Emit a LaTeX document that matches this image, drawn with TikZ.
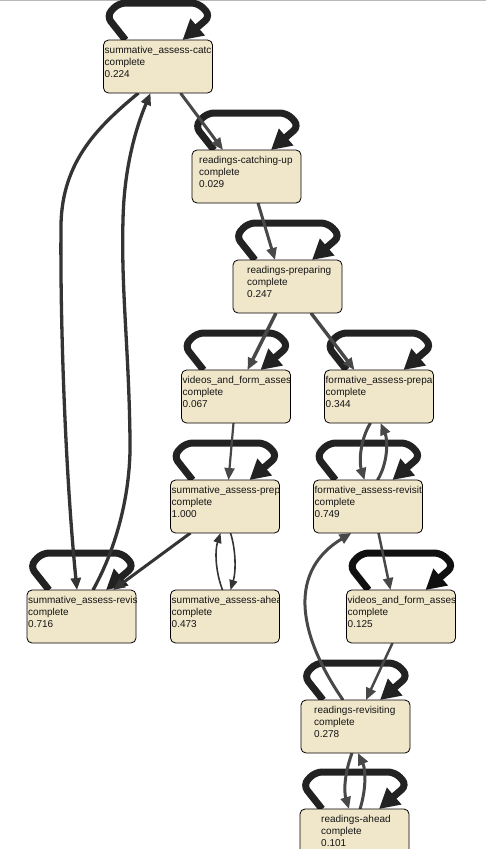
\documentclass[tikz,border=0pt]{standalone}
\usepackage{fontspec}
\setmainfont{Liberation Sans}
\usetikzlibrary{arrows.meta,calc,backgrounds}
\definecolor{boxfill}{RGB}{240,231,202}
\definecolor{edgegray}{RGB}{72,72,72}
\definecolor{edgedark}{RGB}{52,52,52}
\definecolor{loopdark}{RGB}{34,34,34}
\definecolor{loopblack}{RGB}{16,16,16}
\definecolor{textblack}{RGB}{20,20,20}
\tikzset{
  statebox/.style={draw=black, line width=0.8pt, fill=boxfill, rounded corners=5pt,
    minimum width=109pt, minimum height=53pt, inner sep=0pt, outer sep=0pt, anchor=north west},
  lbl/.style={anchor=base west, inner sep=0pt, font=\fontsize{10}{12}\selectfont, text=textblack},
  edge/.style={draw=edgegray, line width=3pt, -{Triangle[length=12pt,width=10pt]}},
  darkedge/.style={draw=edgedark, line width=3.3pt, -{Triangle[length=12pt,width=10pt]}},
  thinedge/.style={draw=edgedark, line width=1.6pt, -{Triangle[length=10pt,width=8pt]}},
  loopline/.style={line width=7pt, rounded corners=7pt, -{Triangle[length=20pt,width=21pt]}}
}
\newcommand\boxlabel[5]{%
  \begin{scope}
    \clip (#1.south west) rectangle (#1.north east);
    \node[lbl] (#1-a) at ($(#1.north west)+(#2,13)$) {#3};
    \node[lbl] (#1-b) at ($(#1.north west)+(#2,25)$) {#4};
    \node[lbl] (#1-c) at ($(#1.north west)+(#2,37)$) {#5};
  \end{scope}}
\newcommand\selfloop[2]{%
  \draw[loopline, draw=#2, fill=none]
    ($(#1.north west)+(22,0)$) -- ($(#1.north west)+(3,-24)$) -- ($(#1.north west)+(15,-37)$)
    -- ($(#1.north west)+(95,-37)$) -- ($(#1.north west)+(107,-24)$) -- ($(#1.north west)+(79,0)$);}
\begin{document}
\begin{tikzpicture}[x=1pt,y=-1pt]
\useasboundingbox (0,0) rectangle (486,849);
\clip (0,0) rectangle (486,849);
\begin{scope}[on background layer]
  \fill[white] (0,0) rectangle (486,849);
  \draw[gray!55, line width=1pt] (0,0.5) -- (486,0.5);
\end{scope}

% state boxes
\node[statebox] (n1) at (103.5,40) {};
\node[statebox] (n2) at (192,150) {};
\node[statebox] (n3) at (233,260) {};
\node[statebox] (n4) at (181.5,370) {};
\node[statebox] (n5) at (324.5,370) {};
\node[statebox] (n6) at (170.5,480) {};
\node[statebox] (n7) at (313.5,480) {};
\node[statebox] (n8) at (27,590) {};
\node[statebox] (n9) at (170.5,590) {};
\node[statebox] (n10) at (346.5,590) {};
\node[statebox] (n11) at (301,700) {};
\node[statebox] (n12) at (300,809) {};

\boxlabel{n1}{1}{summative\_assess-catc}{complete}{0.224}
\boxlabel{n2}{7}{readings-catching-up}{complete}{0.029}
\boxlabel{n3}{14}{readings-preparing}{complete}{0.247}
\boxlabel{n4}{1}{videos\_and\_form\_asses}{complete}{0.067}
\boxlabel{n5}{1}{formative\_assess-prepar}{complete}{0.344}
\boxlabel{n6}{1}{summative\_assess-prep}{complete}{1.000}
\boxlabel{n7}{1}{formative\_assess-revisiti}{complete}{0.749}
\boxlabel{n8}{1}{summative\_assess-revisi}{complete}{0.716}
\boxlabel{n9}{1}{summative\_assess-ahea}{complete}{0.473}
\boxlabel{n10}{1}{videos\_and\_form\_asses}{complete}{0.125}
\boxlabel{n11}{13}{readings-revisiting}{complete}{0.278}
\boxlabel{n12}{21}{readings-ahead}{complete}{0.101}

\begin{scope}[on background layer]
  % self loops
  \selfloop{n1}{loopdark}
  \selfloop{n2}{loopdark}
  \selfloop{n3}{loopdark}
  \selfloop{n4}{loopdark}
  \selfloop{n5}{loopdark}
  \selfloop{n6}{loopdark}
  \selfloop{n7}{loopdark}
  \selfloop{n8}{loopdark}
  \selfloop{n10}{loopblack}
  \selfloop{n11}{loopdark}
  \selfloop{n12}{loopdark}

  % transitions
  \draw[edge] ($(n1.north west)+(77,53)$) -- ($(n2.north west)+(31,0)$);
  \draw[edge] ($(n2.north west)+(66,53)$) -- ($(n3.north west)+(42,0)$);
  \draw[edge, line width=3.4pt] ($(n3.north west)+(43,53)$) -- ($(n4.north west)+(66,0)$);
  \draw[edge, line width=3.4pt] ($(n3.north west)+(78,53)$) -- ($(n5.north west)+(30,0)$);
  \draw[edge, line width=2.2pt] ($(n4.north west)+(52,53)$) -- ($(n6.north west)+(58,0)$);
  \draw[edge] ($(n5.north west)+(46,53)$) .. controls (360,440) and (359,462) .. ($(n7.north west)+(51,0)$);
  \draw[edge] ($(n7.north west)+(64,0)$) .. controls (388,463) and (388,440) .. ($(n5.north west)+(56,53)$);
  \draw[darkedge, line width=3pt] ($(n6.north west)+(20,53)$) -- ($(n8.north west)+(86,0)$);
  \draw[darkedge] ($(n1.north west)+(35,53)$) .. controls (100,125) and (62,160) .. (61,225)
      .. controls (60,330) and (66,480) .. ($(n8.north west)+(50,0)$);
  \draw[darkedge] ($(n8.north west)+(66,0)$) .. controls (118,545) and (131,490) .. (130,440)
      .. controls (129,350) and (121,290) .. (123,220)
      .. controls (124,170) and (135,130) .. ($(n1.north west)+(47,53)$);
  \draw[thinedge] ($(n9.north west)+(52,0)$) .. controls (215,570) and (215,550) .. ($(n6.north west)+(50,53)$);
  \draw[thinedge] ($(n6.north west)+(60,53)$) .. controls (236,550) and (236,572) .. ($(n9.north west)+(60,0)$);
  \draw[edge, line width=2.5pt] ($(n7.north west)+(65,53)$) -- ($(n10.north west)+(44,0)$);
  \draw[edge, line width=2.5pt] ($(n10.north west)+(46,53)$) -- ($(n11.north west)+(65,0)$);
  \draw[edge] ($(n11.north west)+(42,0)$) .. controls (295,630) and (290,570) .. ($(n7.north west)+(38,53)$);
  \draw[edge] ($(n11.north west)+(51,53)$) .. controls (344,775) and (344,792) .. ($(n12.north west)+(49,0)$);
  \draw[edge] ($(n12.north west)+(60,0)$) .. controls (366,790) and (366,770) .. ($(n11.north west)+(57,53)$);
\end{scope}
\end{tikzpicture}
\end{document}
